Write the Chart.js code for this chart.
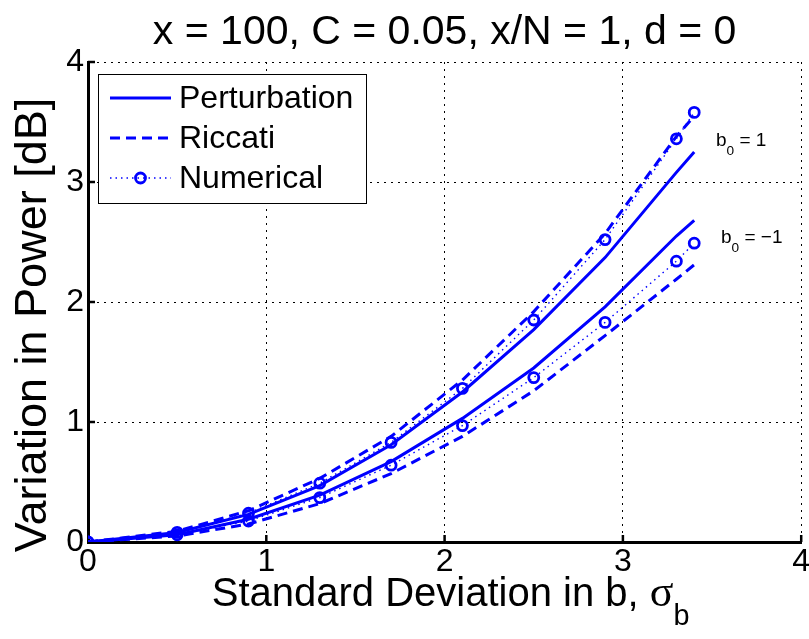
<!DOCTYPE html>
<html>
<head>
<meta charset="utf-8">
<script src="https://cdn.jsdelivr.net/npm/chart.js@4.4.0/dist/chart.umd.min.js"></script>
<style>
  html, body { margin: 0; padding: 0; background: #fff; }
  #wrap { width: 809px; height: 639px; }
</style>
</head>
<body>
<div id="wrap"><canvas id="chart"></canvas></div>
<script>
// sigma_b sample points
const sigma = [0, 0.5, 0.9, 1.3, 1.7, 2.1, 2.5, 2.9, 3.3, 3.4];

// b0 = 1 branch
const pertUp = [0, 0.08, 0.23, 0.47, 0.81, 1.25, 1.77, 2.37, 3.08, 3.25];
const riccUp = [0, 0.09, 0.26, 0.53, 0.88, 1.35, 1.92, 2.57, 3.38, 3.55];
const numUp  = [0, 0.08, 0.24, 0.49, 0.83, 1.28, 1.85, 2.52, 3.36, 3.58];

// b0 = -1 branch
const pertDn = [0, 0.06, 0.19, 0.39, 0.67, 1.03, 1.45, 1.96, 2.55, 2.68];
const riccDn = [0, 0.05, 0.15, 0.32, 0.57, 0.88, 1.26, 1.72, 2.19, 2.31];
const numDn  = [0, 0.06, 0.175, 0.37, 0.64, 0.97, 1.37, 1.83, 2.34, 2.49];

const xTicks = [0, 1, 2, 3, 4];
const yTicks = [0, 1, 2, 3, 4];

const titleText = 'x = 100, C = 0.05, x/N = 1, d = 0';
const yLabel = 'Variation in Power [dB]';

const BLUE = '#0000ff';
const FONT = "'Liberation Sans', Arial, Helvetica, sans-serif";

const pts = (ys) => sigma.map((x, i) => ({ x: x, y: ys[i] }));

const solid = (ys) => ({
  data: pts(ys), borderColor: BLUE, borderWidth: 3, pointRadius: 0, tension: 0
});
const dashed = (ys) => ({
  data: pts(ys), borderColor: BLUE, borderWidth: 3, borderDash: [10, 6], pointRadius: 0, tension: 0
});
const dotted = (ys) => ({
  data: pts(ys), borderColor: BLUE, borderWidth: 1.4, borderDash: [1.5, 4], tension: 0,
  pointRadius: 5, pointBorderWidth: 2.8, pointBorderColor: BLUE, pointBackgroundColor: 'rgba(0,0,0,0)'
});

// text with a subscript, e.g. b_0 or sigma_b
function subText(ctx, parts, x, y, size, align) {
  // parts: [[text, isSub, family, scale]]
  const fontOf = p => (p[1] ? size * 0.72 : size * (p[3] || 1)) + 'px ' + (p[2] || FONT);
  const widths = parts.map(p => { ctx.font = fontOf(p); return ctx.measureText(p[0]).width; });
  const total = widths.reduce((a, b) => a + b, 0);
  let cx = align === 'center' ? x - total / 2 : x;
  ctx.textAlign = 'left';
  ctx.textBaseline = 'alphabetic';
  parts.forEach((p, i) => {
    ctx.font = fontOf(p);
    ctx.fillText(p[0], cx, p[1] ? y + size * 0.48 : y);
    cx += widths[i];
  });
}

const decor = {
  id: 'decor',
  afterDraw(chart) {
    const ctx = chart.ctx;
    const area = chart.chartArea;
    const xs = chart.scales.x, ys = chart.scales.y;
    const midX = area.left + (area.right - area.left) / 2;
    ctx.save();

    // inward tick marks
    ctx.strokeStyle = '#000';
    ctx.lineWidth = 2.5;
    ctx.beginPath();
    xTicks.slice(1).forEach(v => {
      const px = xs.getPixelForValue(v);
      ctx.moveTo(px, area.bottom); ctx.lineTo(px, area.bottom - 7);
    });
    yTicks.slice(1).forEach(v => {
      const py = ys.getPixelForValue(v);
      ctx.moveTo(area.left, py); ctx.lineTo(area.left + 7, py);
    });
    ctx.stroke();

    ctx.fillStyle = '#000';

    // title, centred over the plot area
    ctx.font = '41px ' + FONT;
    ctx.textAlign = 'center';
    ctx.textBaseline = 'alphabetic';
    ctx.fillText(titleText, midX, 44);

    // y axis title
    ctx.save();
    ctx.translate(46, 325);
    ctx.rotate(-Math.PI / 2);
    ctx.font = '45px ' + FONT;
    ctx.textAlign = 'center';
    ctx.fillText(yLabel, 0, 0);
    ctx.restore();

    // x axis title with subscript
    subText(ctx, [['Standard Deviation in b, ', false], ['\u03c3', false, "'Liberation Serif', serif", 1.1], ['b', true]],
      midX + 6, 606, 40, 'center');

    // branch labels
    subText(ctx, [['b', false], ['0', true], [' = 1', false]], 716, 146, 19, 'left');
    subText(ctx, [['b', false], ['0', true], [' = \u22121', false]], 721, 243, 19, 'left');

    // legend
    const L = { x: 98, y: 74, w: 268, h: 129 };
    ctx.fillStyle = '#fff';
    ctx.fillRect(L.x, L.y, L.w, L.h);
    ctx.strokeStyle = '#000';
    ctx.lineWidth = 1;
    ctx.strokeRect(L.x + 0.5, L.y + 0.5, L.w, L.h);

    const rows = [
      { label: 'Perturbation', y: 98, dash: [], w: 3 },
      { label: 'Riccati', y: 138, dash: [10, 6], w: 3 },
      { label: 'Numerical', y: 178, dash: [1.5, 4], w: 1.4, marker: true }
    ];
    rows.forEach(r => {
      ctx.strokeStyle = BLUE;
      ctx.lineWidth = r.w;
      ctx.setLineDash(r.dash);
      ctx.beginPath();
      ctx.moveTo(110, r.y); ctx.lineTo(171, r.y);
      ctx.stroke();
      ctx.setLineDash([]);
      if (r.marker) {
        ctx.lineWidth = 2.8;
        ctx.beginPath();
        ctx.arc(140.5, r.y, 5, 0, Math.PI * 2);
        ctx.stroke();
      }
      ctx.fillStyle = '#000';
      ctx.font = '32px ' + FONT;
      ctx.textAlign = 'left';
      ctx.textBaseline = 'middle';
      ctx.fillText(r.label, 179, r.y + 1);
    });
    ctx.restore();
  }
};

Chart.defaults.font.family = FONT;
Chart.defaults.color = '#000';

new Chart(document.getElementById('chart'), {
  type: 'line',
  data: {
    datasets: [
      dotted(numUp), dotted(numDn),
      solid(pertUp), solid(pertDn),
      dashed(riccUp), dashed(riccDn)
    ]
  },
  options: {
    responsive: true,
    maintainAspectRatio: false,
    animation: false,
    layout: { padding: { top: 62, right: 6, bottom: 0, left: 0 } },
    plugins: {
      legend: { display: false },
      tooltip: { enabled: false },
      title: { display: false }
    },
    scales: {
      x: {
        type: 'linear', min: 0, max: 4,
        ticks: { stepSize: 1, font: { size: 32 }, color: '#000', padding: 1 },
        grid: { color: '#000', lineWidth: 1, drawTicks: false },
        border: { display: true, color: '#000', width: 3, dash: [2, 5] },
        afterFit(s) { s.height = 97; s.paddingLeft = 0; s.paddingRight = 0; }
      },
      y: {
        type: 'linear', min: 0, max: 4,
        ticks: { stepSize: 1, font: { size: 32 }, color: '#000', padding: 4 },
        grid: { color: '#000', lineWidth: 1, drawTicks: false },
        border: { display: true, color: '#000', width: 3, dash: [2, 5] },
        afterFit(s) { s.width = 88; s.paddingTop = 0; s.paddingBottom = 0; }
      }
    }
  },
  plugins: [decor]
});
</script>
</body>
</html>
